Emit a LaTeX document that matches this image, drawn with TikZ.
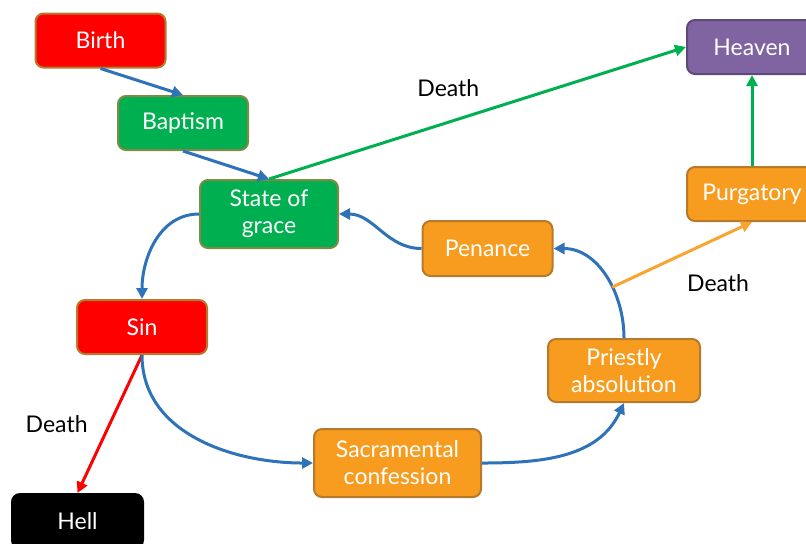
\documentclass[tikz,border=0pt]{standalone}
\usepackage{fontspec}
\setmainfont{Lato}
\usetikzlibrary{arrows.meta}
\usetikzlibrary{positioning}
\definecolor{boxred}{HTML}{FF0000}
\definecolor{boxgreen}{HTML}{00B050}
\definecolor{boxorange}{HTML}{F79C1E}
\definecolor{boxpurple}{HTML}{8064A2}
\definecolor{rimbrown}{HTML}{B57A2C}
\definecolor{rimolive}{HTML}{7E8A45}
\definecolor{rimpurple}{HTML}{5E4A7A}
\definecolor{flowblue}{HTML}{2E72BA}
\definecolor{flowgreen}{HTML}{00B050}
\definecolor{floworange}{HTML}{F8A42E}
\tikzset{state node/.style={rectangle,rounded corners=4pt,draw=rimbrown,line width=1pt,text=white,minimum width=65pt,minimum height=27pt,align=center,inner sep=2pt,font=\fontsize{11.5}{13.5}\selectfont}}
\tikzset{flow/.style={-{Triangle[length=5.5pt,width=5.5pt]},line width=1.5pt,draw=flowblue}}

\begin{document}
\begin{tikzpicture}[on grid]
    \useasboundingbox (0,0) rectangle (403pt,-271.5pt);

    \node[state node,fill=boxred] (birth) at (50.25pt,-20.25pt) {Birth};
    \node[state node,fill=boxgreen,draw=rimolive] (baptism) [below right=41.25pt and 41.25pt of birth] {Baptism};
    \node[state node,fill=boxgreen,draw=rimolive,minimum width=69pt,minimum height=34pt] (grace) [below right=45.5pt and 43pt of baptism] {State of\\grace};
    \node[state node,fill=boxred] (sin) [below left=56.5pt and 63.5pt of grace] {Sin};
    \node[state node,fill=black,draw=black,minimum width=65.5pt] (hell) [below left=97pt and 32.25pt of sin] {Hell};
    \node[state node,fill=boxorange,minimum width=83.5pt,minimum height=34pt] (confession) [below right=68pt and 127.75pt of sin] {Sacramental\\confession};
    \node[state node,fill=boxorange,minimum width=76pt,minimum height=31.5pt] (absolution) [above right=46.25pt and 113.25pt of confession] {Priestly\\absolution};
    \node[state node,fill=boxorange,minimum height=27.5pt] (penance) [above left=61pt and 68.25pt of absolution] {Penance};
    \node[state node,fill=boxorange] (purgatory) [above right=88.25pt and 64pt of absolution] {Purgatory};
    \node[state node,fill=boxpurple,draw=rimpurple] (heaven) [above=73.5pt of purgatory] {Heaven};

    % the way of grace
    \draw[flow] (birth.south) -- (baptism.north);
    \draw[flow] (baptism.south) -- (grace.north);
    \draw[flow,draw=flowgreen] (grace.north) -- node[pos=0.43,above=8.5pt,font=\fontsize{11.5}{13.5}\selectfont] (deathone) {Death} (heaven.west);

    % sin and confession
    \draw[flow] (grace.west) to[out=180,in=90] (sin.north);
    \draw[flow,draw=boxred] (sin.south) -- node[midway,left=7pt,font=\fontsize{11.5}{13.5}\selectfont] (deaththree) {Death} (hell.north);
    \draw[flow] (sin.south) to[out=-90,in=180] (confession.west);
    \draw[flow] (confession.east) to[out=0,in=-115] (absolution.south);
    \draw[flow] (absolution.north) to[out=90,in=0] coordinate[pos=0.4] (split) (penance.east);
    \draw[flow] (penance.west) to[out=180,in=0] (grace.east);

    % death after absolution
    \draw[flow,draw=floworange] (split) -- node[midway,below right=6pt and -1.5pt,font=\fontsize{11.5}{13.5}\selectfont] (deathtwo) {Death} (purgatory.south);
    \draw[flow,draw=flowgreen] (purgatory.north) -- (heaven.south);
\end{tikzpicture}
\end{document}
